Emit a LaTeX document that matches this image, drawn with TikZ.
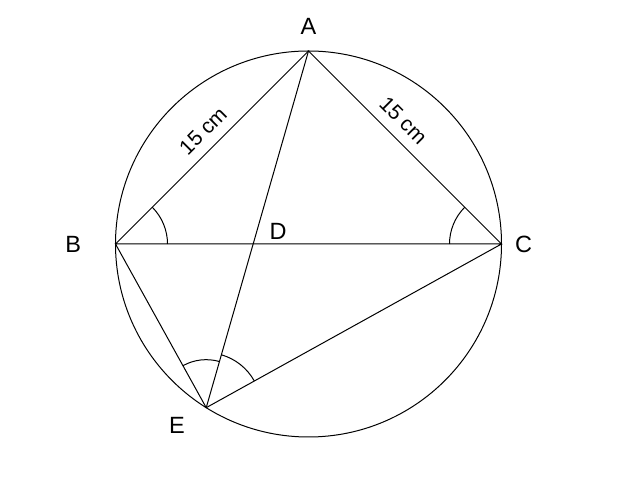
\documentclass[tikz,border=0pt]{standalone}
\usepackage{fontspec}
\setmainfont{Liberation Sans}
\usetikzlibrary{positioning,angles}
\begin{document}
\begin{tikzpicture}[x=1bp,y=1bp]
\tikzset{pt/.style={font=\fontsize{23.5bp}{28bp}\selectfont},
len/.style={font=\fontsize{21bp}{25bp}\selectfont,sloped,above=7bp},
edge/.style={line width=1bp},
ang/.style={draw,line width=1bp},
}
\useasboundingbox (0,0) rectangle (621,484);

\coordinate (O) at (308.5,240);
\coordinate (A) at (308.5,433);
\coordinate (B) at (115.5,240);
\coordinate (C) at (501.5,240);
\coordinate (E) at ([shift={(238:193)}]O);
\coordinate (D) at (intersection of A--E and B--C);

\draw[edge] (O) circle (193);
\draw[edge] (B) -- node[len,pos=0.52] (lenBA) {15 cm} (A)
  -- node[len,pos=0.425] (lenAC) {15 cm} (C) -- (B) -- (E) -- (C);
\draw[edge] (A) -- (E);

\pic[ang,angle radius=52bp] {angle=C--B--A};
\pic[ang,angle radius=52bp] {angle=A--C--B};
\pic[ang,angle radius=48bp] {angle=A--E--B};
\pic[ang,angle radius=55bp] {angle=C--E--A};

\node[pt,above=13bp of A] (labA) {A};
\node[pt,left=31bp of B] (labB) {B};
\node[pt,right=10bp of C] (labC) {C};
\node[pt] (labD) at ([shift={(25,13)}]D) {D};
\node[pt,below left=6bp and 18bp of E] (labE) {E};

\end{tikzpicture}
\end{document}
